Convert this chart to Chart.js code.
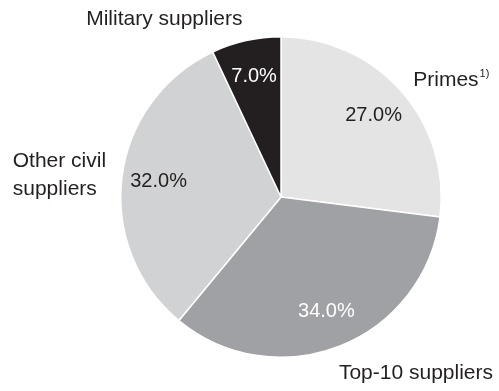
<!DOCTYPE html>
<html>
<head>
<meta charset="utf-8">
<script src="https://cdn.jsdelivr.net/npm/chart.js@4/dist/chart.umd.min.js"></script>
<style>
  html, body { margin: 0; padding: 0; background: #fff; }
  #wrap { width: 499px; height: 391px; }
</style>
</head>
<body>
<div id="wrap"><canvas id="pie"></canvas></div>
<script>
Chart.defaults.font.family = "'Liberation Sans', Arial, sans-serif";

const labels = ["Primes", "Top-10 suppliers", "Other civil suppliers", "Military suppliers"];
const shares = [27, 34, 32, 7];
const sliceColors = ["#e4e4e5", "#a0a1a4", "#d1d2d4", "#231f20"];
const valueColors = ["#231f20", "#ffffff", "#231f20", "#ffffff"];
// outer label lines (Other civil suppliers breaks onto two lines)
const nameLines = [["Primes"], ["Top-10 suppliers"], ["Other civil", "suppliers"], ["Military suppliers"]];
const footnotes = ["1)", "", "", ""];

const textColor = "#231f20";
const nameFont = "21px 'Liberation Sans', Arial, sans-serif";

const labelPlugin = {
  id: "sliceLabels",
  afterDatasetsDraw(chart) {
    const ctx = chart.ctx;
    const arcs = chart.getDatasetMeta(0).data;
    ctx.save();
    arcs.forEach((arc, i) => {
      const mid = (arc.startAngle + arc.endAngle) / 2;
      const cos = Math.cos(mid), sin = Math.sin(mid);
      const r = arc.outerRadius;

      // percentage inside the slice
      ctx.font = "20px 'Liberation Sans', Arial, sans-serif";
      ctx.fillStyle = valueColors[i];
      ctx.textAlign = "center";
      ctx.textBaseline = "middle";
      ctx.fillText(shares[i].toFixed(1) + "%", arc.x + cos * r * 0.77, arc.y + sin * r * 0.77);

      // name outside the slice, block left-aligned
      let ox = arc.x + cos * r * 1.1;
      let oy = arc.y + sin * r * 1.1;
      if (sin > 0.8) oy += 12;   // under the pie: hang below
      if (sin < -0.8) oy -= 6;   // above the pie: sit higher
      const lineH = 28;
      const lines = nameLines[i];
      ctx.font = nameFont;
      const blockW = Math.max(...lines.map(l => ctx.measureText(l).width));
      if (cos < 0) ox -= blockW;
      ox = Math.min(ox, chart.width - 6 - blockW);
      ctx.fillStyle = textColor;
      ctx.textAlign = "left";
      lines.forEach((line, k) => {
        const y = oy + (k - (lines.length - 1) / 2) * lineH;
        ctx.font = nameFont;
        ctx.fillText(line, ox, y);
        if (footnotes[i] && k === lines.length - 1) {
          const w = ctx.measureText(line).width;
          ctx.font = "11px 'Liberation Sans', Arial, sans-serif";
          ctx.fillText(footnotes[i], ox + w + 1, y - 6);
        }
      });
    });
    ctx.restore();
  }
};

new Chart(document.getElementById("pie"), {
  type: "pie",
  data: {
    labels: labels,
    datasets: [{
      data: shares,
      backgroundColor: sliceColors,
      borderColor: "#ffffff",
      borderWidth: 1.5,
    }],
  },
  options: {
    responsive: true,
    maintainAspectRatio: false,
    animation: false,
    layout: { padding: { top: 36, bottom: 33, left: 70, right: 7 } },
    plugins: {
      legend: { display: false },
      tooltip: { enabled: false },
    },
  },
  plugins: [labelPlugin],
});
</script>
</body>
</html>
